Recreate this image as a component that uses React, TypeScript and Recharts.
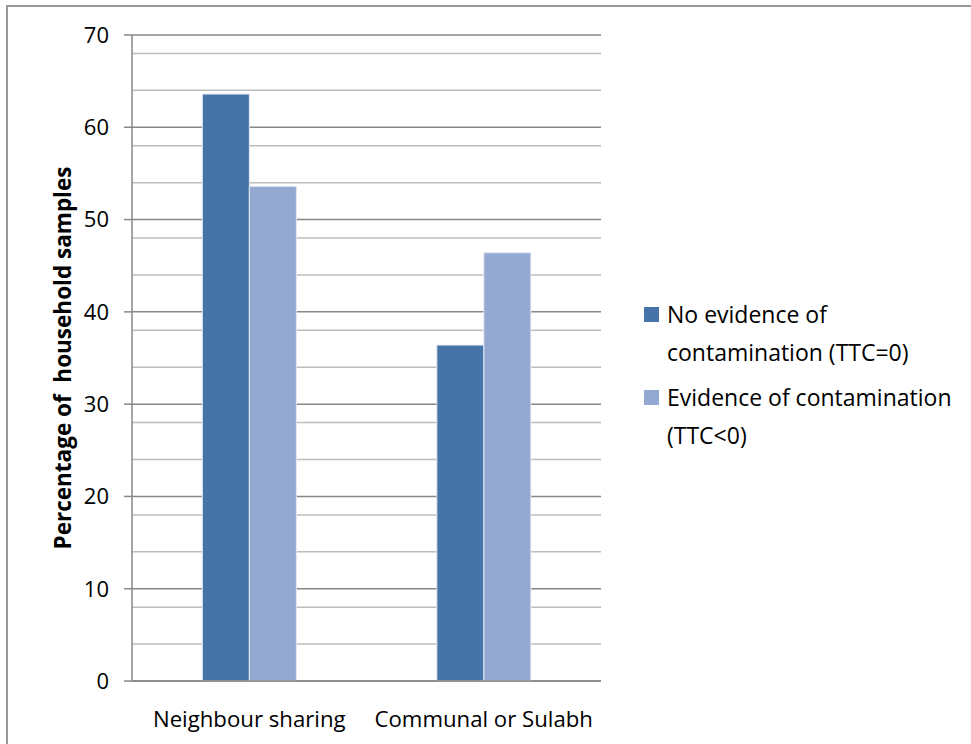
import { BarChart, Bar, XAxis, YAxis, CartesianGrid, Legend, Label } from 'recharts';

const categories = ['Neighbour sharing', 'Communal or Sulabh'];
const noEvidence = [63.6, 36.4];
const evidence = [53.6, 46.4];
const majorTicks = [0, 10, 20, 30, 40, 50, 60, 70];
const minorTicks = [2, 4, 6, 8, 12, 14, 16, 18, 22, 24, 26, 28, 32, 34, 36, 38, 42, 44, 46, 48, 52, 54, 56, 58, 62, 64, 66, 68];

const series = [
    { key: 'noEvidence', lines: ['No evidence of', 'contamination (TTC=0)'], color: '#4673a8' },
    { key: 'evidence', lines: ['Evidence of contamination', '(TTC<0)'], color: '#94a9d1' },
];

const data = categories.map((name, i) => ({
    name,
    noEvidence: noEvidence[i],
    evidence: evidence[i],
}));

const font = '"Open Sans", sans-serif';

const LegendBox = () => (
    <div style={{ fontFamily: font, fontSize: 23, color: '#000', lineHeight: '38px' }}>
        {series.map((s) => (
            <div key={s.key} style={{ display: 'flex', marginBottom: 7 }}>
                <div style={{ width: 15, height: 15, background: s.color, marginTop: 12, marginRight: 8, flexShrink: 0 }} />
                <div style={{ whiteSpace: 'nowrap' }}>
                    {s.lines.map((l) => (
                        <div key={l}>{l}</div>
                    ))}
                </div>
            </div>
        ))}
    </div>
);

const App = () => {
    return (
        <div style={{ position: 'absolute', left: 0, top: 0, width: 971, height: 744, background: '#fff', overflow: 'hidden' }}>
            <div style={{ position: 'absolute', left: 6, top: 5, width: 980, height: 760, border: '2px solid #999', boxSizing: 'border-box' }} />
            <BarChart
                width={971}
                height={744}
                data={data}
                margin={{ top: 35, right: 370, bottom: 23, left: 0 }}
                barCategoryGap="30%"
                barGap={0}
            >
                <CartesianGrid vertical={false} horizontalValues={minorTicks} stroke="#bdbdbd" strokeWidth={1.5} />
                <CartesianGrid vertical={false} horizontalValues={majorTicks} stroke="#878787" strokeWidth={1.5} />
                <XAxis
                    dataKey="name"
                    tickLine={false}
                    axisLine={{ stroke: '#878787', strokeWidth: 1.5 }}
                    tickMargin={24}
                    height={40}
                    tick={{ fontFamily: font, fontSize: 22.2, fill: '#000' }}
                />
                <YAxis
                    domain={[0, 70]}
                    ticks={majorTicks}
                    width={132}
                    tickSize={8}
                    tickMargin={15}
                    axisLine={{ stroke: '#878787', strokeWidth: 1.5 }}
                    tickLine={{ stroke: '#878787', strokeWidth: 1.5 }}
                    tick={{ fontFamily: font, fontSize: 22, fill: '#000' }}
                >
                    <Label
                        content={({ viewBox }: any) => (
                            <text
                                x={62}
                                y={viewBox.y + viewBox.height / 2}
                                transform={`rotate(-90 62 ${viewBox.y + viewBox.height / 2})`}
                                textAnchor="middle"
                                dominantBaseline="central"
                                fontFamily={font}
                                fontSize={22.5}
                                fontWeight="bold"
                                fill="#000"
                                style={{ whiteSpace: 'pre' }}
                            >
                                Percentage of  household samples
                            </text>
                        )}
                    />
                </YAxis>
                <Legend
                    layout="vertical"
                    align="center"
                    verticalAlign="middle"
                    content={<LegendBox />}
                    wrapperStyle={{ position: 'absolute', left: 644, top: 295, width: 320 }}
                />
                {series.map((s) => (
                    <Bar
                        key={s.key}
                        dataKey={s.key}
                        fill={s.color}
                        stroke="#dfe6f1"
                        strokeWidth={1}
                        isAnimationActive={false}
                    />
                ))}
            </BarChart>
        </div>
    );
};

export default App;
